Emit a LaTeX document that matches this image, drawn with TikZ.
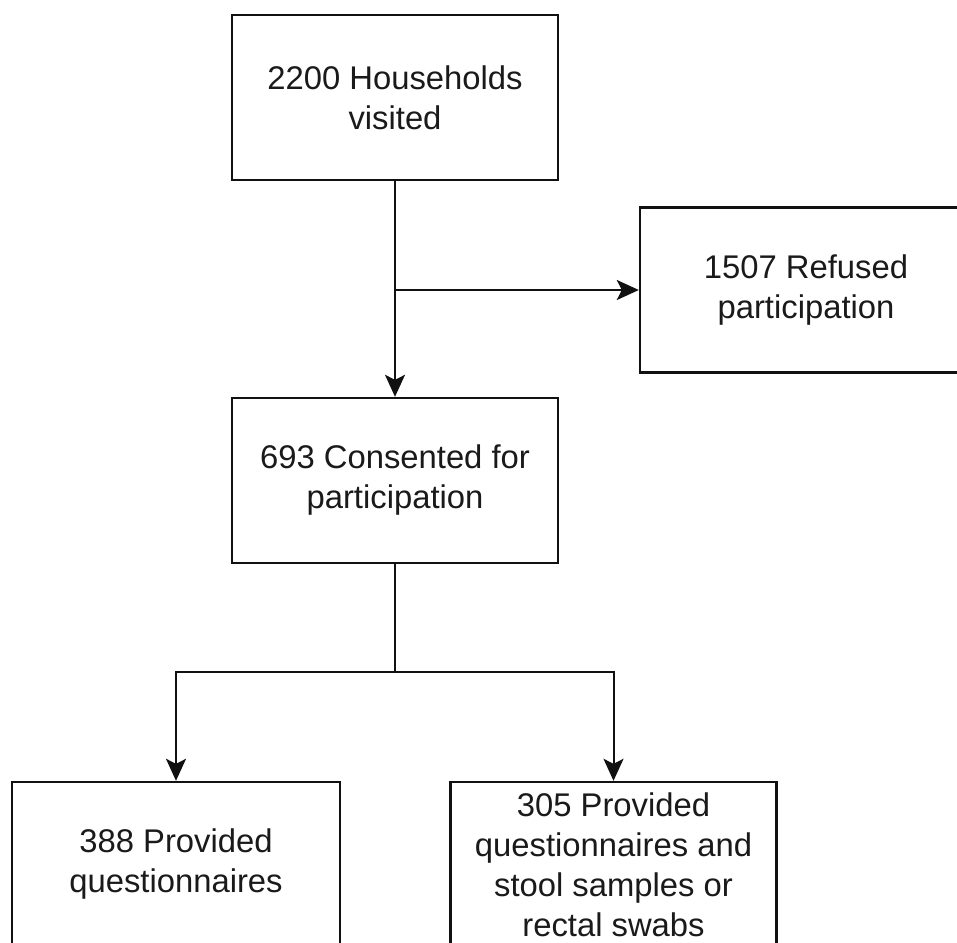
\documentclass[tikz,border=0pt]{standalone}
\usepackage{fontspec}
\setmainfont{Liberation Sans}
\usepackage{xcolor}
\definecolor{flowLine}{HTML}{111111}
\definecolor{flowText}{HTML}{1A1A1A}
\usetikzlibrary{arrows.meta}

\begin{document}
\begin{tikzpicture}[x=0.5pt, y=-0.5pt,
  flowBox/.style={rectangle, draw=flowLine, line width=1.2pt, minimum width=163pt, minimum height=82.5pt, inner sep=0pt, align=center, text=flowText, font=\fontsize{16.4}{20}\selectfont},
  flowArrow/.style={draw=flowLine, line width=1pt, -{Stealth[length=11pt, width=10pt, inset=2.5pt]}}]
  \useasboundingbox (0,0) rectangle (957,942);
  \clip (0,0) rectangle (957,942);
  \node[flowBox] (visited) at (395,97.5) {2200 Households\\visited};
  \node[flowBox, minimum width=166pt] (refused) at (806,290) {1507 Refused\\participation};
  \node[flowBox] (consented) at (395,480.5) {693 Consented for\\participation};
  \node[flowBox, minimum width=164pt] (quest) at (176,864.5) {388 Provided\\questionnaires};
  \node[flowBox] (stool) at (613.5,864.5) {305 Provided\\questionnaires and\\stool samples or\\rectal swabs};
  \coordinate (split) at (395,290);
  \coordinate (fork) at (395,672);
  \draw[flowArrow] (visited) -- (consented);
  \draw[flowArrow] (split) -- (refused);
  \draw[draw=flowLine, line width=1pt] (consented) -- (fork);
  \draw[flowArrow] (fork) -| (quest);
  \draw[flowArrow] (fork) -| (stool);
\end{tikzpicture}
\end{document}
